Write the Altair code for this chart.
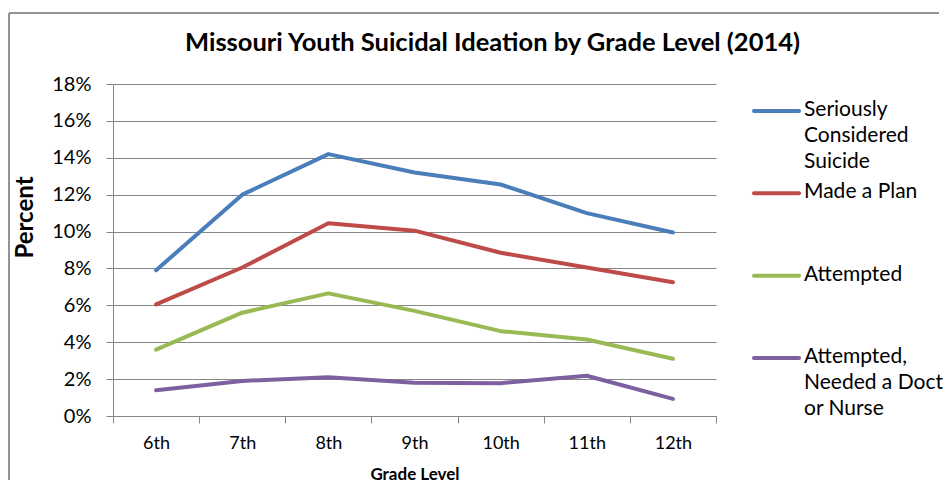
import altair as alt
import pandas as pd

grades = ["6th", "7th", "8th", "9th", "10th", "11th", "12th"]
series = ["Seriously Considered Suicide", "Made a Plan", "Attempted",
          "Attempted, Needed a Doctor or Nurse"]
legend_labels = ["Seriously\nConsidered\nSuicide", "Made a Plan", "Attempted",
                 "Attempted,\nNeeded a Doctor\nor Nurse"]
colors = ["#4a7ebb", "#be4b48", "#98b954", "#7d60a0"]

considered = [7.9, 12.0, 14.2, 13.2, 12.55, 11.0, 9.95]
made_plan = [6.05, 8.05, 10.45, 10.05, 8.85, 8.05, 7.25]
attempted = [3.6, 5.6, 6.65, 5.7, 4.6, 4.15, 3.1]
needed_doctor = [1.4, 1.9, 2.1, 1.8, 1.78, 2.18, 0.93]

y_ticks = [0, 0.02, 0.04, 0.06, 0.08, 0.10, 0.12, 0.14, 0.16, 0.18]

rows = []
for name, vals in zip(series, [considered, made_plan, attempted, needed_doctor]):
    for g, v in zip(grades, vals):
        rows.append({"series": name, "grade": g, "value": v / 100})
df = pd.DataFrame(rows)

legend_df = pd.DataFrame({"series": series, "label": legend_labels})

FONT = "Lato"
GRAY = "#868686"

color_scale = alt.Scale(domain=series, range=colors)

lines = alt.Chart(df).mark_line(strokeWidth=4, strokeJoin="round", strokeCap="round").encode(
    x=alt.X("grade:N", sort=grades,
            scale=alt.Scale(type="band", paddingInner=0, paddingOuter=0),
            axis=alt.Axis(title="Grade Level", labelAngle=0, tickBand="extent",
                          tickSize=7, tickColor=GRAY, domainColor=GRAY,
                          labelFontSize=18, labelPadding=11, labelColor="black",
                          titleFontSize=17, titleFontWeight="bold", titlePadding=14,
                          titleColor="black", labelFont=FONT, titleFont=FONT)),
    y=alt.Y("value:Q", scale=alt.Scale(domain=[0, 0.18], nice=False),
            axis=alt.Axis(title="Percent", values=y_ticks, format=".0%",
                          tickSize=7, tickColor=GRAY, domainColor=GRAY,
                          gridColor=GRAY, grid=True, labelFontSize=20,
                          labelPadding=15, labelColor="black",
                          titleFontSize=24, titleFontWeight="bold",
                          titleColor="black", titlePadding=14, titleY=133,
                          labelFont=FONT, titleFont=FONT)),
    color=alt.Color("series:N", scale=color_scale, legend=None),
    order=alt.Order("series:N"),
)

frame_top = alt.Chart(legend_df).mark_rule(color="#8c8c8c", strokeWidth=1).encode(
    x=alt.value(-104), x2=alt.value(826), y=alt.value(-71)
)
frame_left = alt.Chart(legend_df).mark_rule(color="#8c8c8c", strokeWidth=1).encode(
    x=alt.value(-104), y=alt.value(-71), y2=alt.value(396)
)

main = alt.layer(frame_top, frame_left, lines).properties(
    width=603, height=332,
    title=alt.TitleParams(
        "Missouri Youth Suicidal Ideation by Grade Level (2014)",
        font=FONT, fontSize=25.5, fontWeight="bold", color="black",
        anchor="middle", frame="group", dx=78, offset=-44,
    ),
)

ly = alt.Y("series:N", sort=series,
           scale=alt.Scale(type="point", domain=series, range=[27, 274], padding=0),
           axis=None)

leg_rule = alt.Chart(legend_df).mark_rule(strokeWidth=4, strokeCap="round").encode(
    x=alt.value(13), x2=alt.value(58), y=ly,
    color=alt.Color("series:N", scale=color_scale, legend=None),
)
leg_text = alt.Chart(legend_df).mark_text(
    align="left", baseline="top", dy=-12, lineBreak="\n", lineHeight=26,
    font=FONT, fontSize=21, color="black", limit=149, ellipsis="\u200b",
).encode(
    x=alt.value(63), y=ly, text="label:N",
)
legend = alt.layer(leg_rule, leg_text).properties(width=190, height=332)

chart = alt.hconcat(main, legend, spacing=25, bounds="flush").properties(
    padding={"left": 0, "top": 4, "right": 0, "bottom": 0}
).configure_view(stroke=None)

chart.save("out.html", embed_options={"renderer": "svg", "actions": False})
